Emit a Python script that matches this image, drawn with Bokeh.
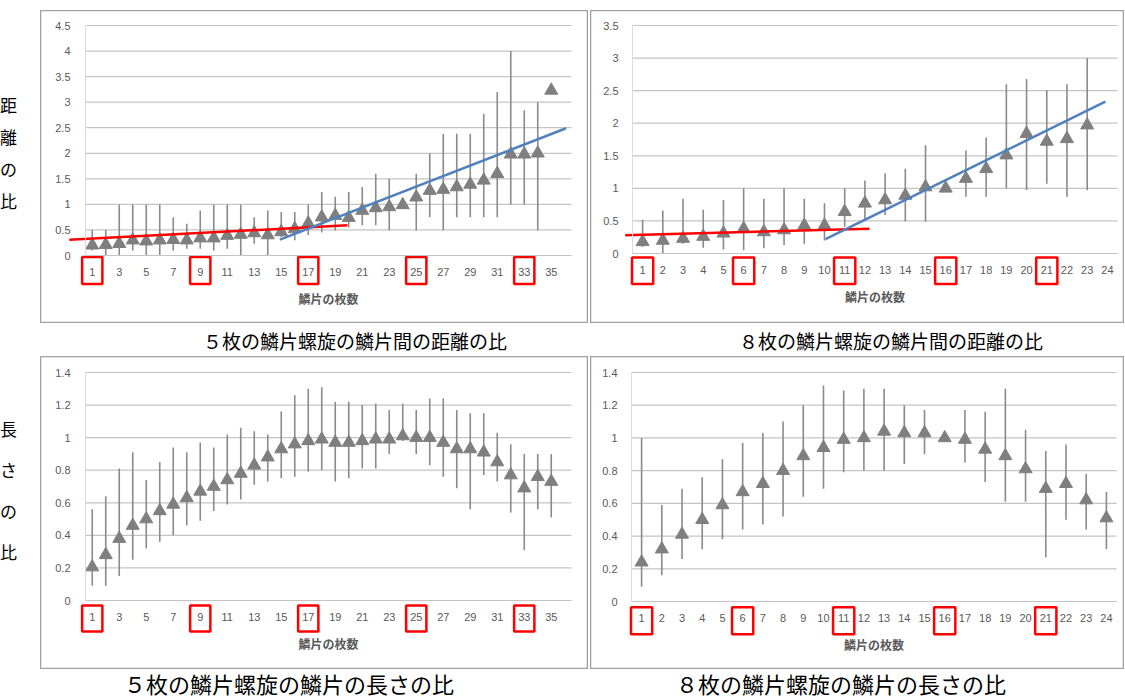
from bokeh.plotting import figure
from bokeh.layouts import row, column
from bokeh.models import FixedTicker, Div, Spacer
from bokeh.embed import file_html
from bokeh.resources import INLINE

# ---------------- data ----------------
# 5-scale spiral, distance ratio (categories 1..35)
x_d5 = list(range(1, 36))
mean_d5 = [0.20, 0.21, 0.23, 0.30, 0.28, 0.30, 0.31, 0.30, 0.34, 0.34, 0.39, 0.41, 0.44, 0.40, 0.46,
           0.52, 0.63, 0.75, 0.78, 0.74, 0.88, 0.93, 0.95, 0.99, 1.14, 1.27, 1.29, 1.34, 1.39, 1.47,
           1.60, 1.98, 1.98, 2.00, 3.23]
hi_d5 = [0.50, 0.50, 1.00, 1.00, 1.00, 1.00, 0.75, 0.62, 0.88, 1.00, 1.00, 1.00, 0.75, 0.88, 0.85,
         0.85, 1.00, 1.24, 1.15, 1.24, 1.34, 1.60, 1.50, 1.05, 1.60, 2.00, 2.38, 2.38, 2.38, 2.77,
         3.20, 4.00, 2.84, 3.00, 3.23]
lo_d5 = [0.10, 0.00, 0.00, 0.10, 0.00, 0.00, 0.10, 0.13, 0.13, 0.10, 0.13, 0.00, 0.23, 0.00, 0.36,
         0.30, 0.40, 0.45, 0.49, 0.55, 0.59, 0.59, 0.49, 0.93, 0.49, 0.75, 0.49, 0.75, 0.75, 0.75,
         0.75, 1.00, 1.00, 0.49, 3.23]

# 8-scale spiral, distance ratio (data for 1..23, axis to 24)
x_d8 = list(range(1, 24))
mean_d8 = [0.18, 0.20, 0.23, 0.26, 0.31, 0.38, 0.33, 0.36, 0.43, 0.43, 0.64, 0.77, 0.82, 0.89, 1.02,
           1.00, 1.15, 1.30, 1.51, 1.84, 1.72, 1.76, 1.97]
hi_d8 = [0.52, 0.66, 0.84, 0.67, 0.82, 1.00, 0.84, 1.00, 0.84, 0.77, 1.00, 1.12, 1.23, 1.30, 1.66,
         1.00, 1.58, 1.78, 2.60, 2.68, 2.51, 2.60, 3.00]
lo_d8 = [0.10, 0.00, 0.15, 0.09, 0.06, 0.05, 0.08, 0.13, 0.15, 0.20, 0.41, 0.53, 0.59, 0.49, 0.49,
         1.00, 0.87, 0.87, 1.00, 0.97, 1.07, 0.87, 0.97]

# 5-scale spiral, length ratio
x_l5 = list(range(1, 36))
mean_l5 = [0.205, 0.28, 0.38, 0.46, 0.50, 0.55, 0.59, 0.63, 0.67, 0.70, 0.74, 0.78, 0.83, 0.88, 0.93,
           0.96, 0.98, 0.99, 0.97, 0.97, 0.98, 0.99, 0.99, 1.01, 1.00, 1.00, 0.97, 0.93, 0.93, 0.91,
           0.85, 0.77, 0.69, 0.76, 0.73]
hi_l5 = [0.56, 0.64, 0.81, 0.91, 0.74, 0.85, 0.94, 0.91, 0.97, 0.94, 1.02, 1.06, 1.04, 1.02, 1.16,
         1.26, 1.30, 1.31, 1.22, 1.22, 1.20, 1.21, 1.17, 1.21, 1.17, 1.24, 1.24, 1.17, 1.15, 1.15,
         1.03, 0.96, 0.90, 0.90, 0.90]
lo_l5 = [0.09, 0.09, 0.15, 0.25, 0.32, 0.36, 0.40, 0.46, 0.49, 0.55, 0.59, 0.62, 0.71, 0.73, 0.75,
         0.76, 0.79, 0.80, 0.73, 0.75, 0.81, 0.81, 0.90, 0.98, 0.90, 0.83, 0.76, 0.69, 0.56, 0.77,
         0.73, 0.54, 0.31, 0.56, 0.51]

# 8-scale spiral, length ratio
x_l8 = list(range(1, 25))
mean_l8 = [0.24, 0.32, 0.41, 0.50, 0.59, 0.67, 0.72, 0.80, 0.89, 0.94, 0.99, 1.00, 1.04, 1.03, 1.03,
           1.00, 0.99, 0.93, 0.89, 0.81, 0.69, 0.72, 0.62, 0.51]
hi_l8 = [1.00, 0.59, 0.69, 0.76, 0.87, 0.97, 1.03, 1.10, 1.20, 1.32, 1.29, 1.30, 1.30, 1.20, 1.17,
         1.00, 1.17, 1.16, 1.30, 1.05, 0.92, 0.96, 0.78, 0.67]
lo_l8 = [0.09, 0.16, 0.26, 0.32, 0.38, 0.44, 0.47, 0.52, 0.64, 0.69, 0.79, 0.80, 0.80, 0.84, 0.90,
         1.00, 0.85, 0.73, 0.61, 0.61, 0.27, 0.50, 0.44, 0.32]

# tick values / labels
xticks_5 = list(range(1, 36, 2))
xticks_8 = list(range(1, 25))
yticks_d5 = [0, 0.5, 1, 1.5, 2, 2.5, 3, 3.5, 4, 4.5]
ylabels_d5 = ["0", "0.5", "1", "1.5", "2", "2.5", "3", "3.5", "4", "4.5"]
yticks_d8 = [0, 0.5, 1, 1.5, 2, 2.5, 3, 3.5]
ylabels_d8 = ["0", "0.5", "1", "1.5", "2", "2.5", "3", "3.5"]
yticks_l = [0, 0.2, 0.4, 0.6, 0.8, 1.0, 1.2, 1.4]
ylabels_l = ["0", "0.2", "0.4", "0.6", "0.8", "1", "1.2", "1.4"]

# highlighted categories (red boxes around their tick labels)
hl_5 = [1, 9, 17, 25, 33]
hl_8 = [1, 6, 11, 16, 21]

# hand-drawn trend lines: [x0, y0, x1, y1]
red_d5 = [-0.7, 0.31, 19.9, 0.59]
blue_d5 = [14.9, 0.31, 36.1, 2.49]
red_d8 = [0.14, 0.28, 12.23, 0.38]
blue_d8 = [10.05, 0.22, 23.9, 2.33]

x_title = "鱗片の枚数"
captions = ["５枚の鱗片螺旋の鱗片間の距離の比", "８枚の鱗片螺旋の鱗片間の距離の比",
            "５枚の鱗片螺旋の鱗片の長さの比", "８枚の鱗片螺旋の鱗片の長さの比"]
side_labels = ["距離の比", "長さの比"]

# ---------------- styling ----------------
GRID = "#c4c4c4"
MARK = "#7f7f7f"
BAR = "#8a8a8a"
LBL = "#595959"
TICK_FONT = "Liberation Sans"
JP = "Noto Sans CJK JP"


def panel(x, mean, lo, hi, xticks, ncat, yticks, ylabels, ymax, hl, box_w, box_y,
          W, H, pl, pr, pt, pb, lstand):
    """W,H: chart box size; pl,pr,pt,pb: plot-area edges in px inside the box."""
    sx = (pr - pl) / ncat
    sy = (pb - pt) / ymax
    xr = (0.5 - pl / sx, 0.5 + ncat + (W - pr) / sx)
    yr = (-(H - pb) / sy, ymax + pt / sy)
    p = figure(width=W, height=H, x_range=xr, y_range=yr,
               output_backend="svg", toolbar_location=None,
               min_border=0, min_border_left=0, min_border_right=0,
               min_border_top=0, min_border_bottom=0)
    p.outline_line_color = "#a0a0a0"
    p.outline_line_width = 1.5
    p.background_fill_color = "white"
    p.border_fill_color = "white"
    p.xgrid.visible = False
    p.ygrid.visible = False

    xmax = 0.5 + ncat
    # horizontal gridlines across the plot area
    p.segment(x0=[0.5] * len(yticks), y0=yticks, x1=[xmax] * len(yticks), y1=yticks,
              line_color=GRID, line_width=1.2)

    p.xaxis.fixed_location = 0
    p.xaxis.bounds = (0.5, xmax)
    p.xaxis.ticker = FixedTicker(ticks=xticks)
    p.xaxis.major_tick_line_color = None
    p.xaxis.minor_tick_line_color = None
    p.xaxis.major_tick_out = 0
    p.xaxis.axis_line_color = GRID
    p.xaxis.major_label_text_font = TICK_FONT
    p.xaxis.major_label_text_font_size = "11px"
    p.xaxis.major_label_text_color = LBL
    p.xaxis.major_label_standoff = 12
    p.xaxis.axis_label = x_title
    p.xaxis.axis_label_text_font = JP
    p.xaxis.axis_label_text_font_size = "12px"
    p.xaxis.axis_label_text_font_style = "bold"
    p.xaxis.axis_label_text_color = LBL
    p.xaxis.axis_label_standoff = 11

    p.yaxis.fixed_location = 0.5
    p.yaxis.bounds = (0, ymax)
    p.yaxis.ticker = FixedTicker(ticks=yticks)
    p.yaxis.major_label_overrides = {t: s for t, s in zip(yticks, ylabels)}
    p.yaxis.major_tick_line_color = None
    p.yaxis.minor_tick_line_color = None
    p.yaxis.major_tick_out = 0
    p.yaxis.axis_line_color = "#dcdcdc"
    p.yaxis.major_label_text_font = TICK_FONT
    p.yaxis.major_label_text_font_size = "11px"
    p.yaxis.major_label_text_color = LBL
    p.yaxis.major_label_standoff = lstand

    p.segment(x0=x, y0=lo, x1=x, y1=hi, line_color=BAR, line_width=1.6)
    p.scatter(x=x, y=mean, marker="triangle", size=13, fill_color=MARK, line_color=MARK)

    p.quad(left=[k - box_w / 2 for k in hl], right=[k + box_w / 2 for k in hl],
           bottom=[box_y[0]] * len(hl), top=[box_y[1]] * len(hl),
           fill_color=None, line_color="#ff0000", line_width=2.5)
    return p


p1 = panel(x_d5, mean_d5, lo_d5, hi_d5, xticks_5, 36, yticks_d5, ylabels_d5, 4.5, hl_5,
           1.5, (-0.56, -0.03), 548, 313, 45, 531, 15, 245, 15)
p2 = panel(x_d8, mean_d8, lo_d8, hi_d8, xticks_8, 24, yticks_d8, ylabels_d8, 3.5, hl_8,
           1.05, (-0.47, -0.06), 534, 313, 42, 527, 15, 243, 14)
p3 = panel(x_l5, mean_l5, lo_l5, hi_l5, xticks_5, 36, yticks_l, ylabels_l, 1.4, hl_5,
           1.5, (-0.19, -0.03), 548, 313, 45, 531, 16, 244, 15)
p4 = panel(x_l8, mean_l8, lo_l8, hi_l8, xticks_8, 24, yticks_l, ylabels_l, 1.4, hl_8,
           1.05, (-0.20, -0.035), 534, 313, 41, 526, 16, 245, 14)

for p, r, b in ((p1, red_d5, blue_d5), (p2, red_d8, blue_d8)):
    p.segment(x0=[r[0]], y0=[r[1]], x1=[r[2]], y1=[r[3]], line_color="#ff0000", line_width=2.5)
    p.segment(x0=[b[0]], y0=[b[1]], x1=[b[2]], y1=[b[3]], line_color="#4f81bd", line_width=2.5)


def side_div(txt, h, pad, lh):
    chars = "<br>".join(list(txt))
    html = (f'<div style="font-family:\'{JP}\';font-size:17px;line-height:{lh}px;margin:0;'
            f'text-align:center;padding-top:{pad}px;color:#000;">{chars}</div>')
    return Div(text=html, width=40, height=h, margin=0, styles={"overflow": "hidden"})


def cap_div(txt, w, h, size, padl, padt, lh):
    html = (f'<div style="font-family:\'{JP}\';font-size:{size}px;line-height:{lh}px;margin:0;'
            f'padding-top:{padt}px;padding-left:{padl}px;text-align:left;'
            f'white-space:nowrap;color:#000;">{txt}</div>')
    return Div(text=html, width=w, height=h, margin=0, styles={"overflow": "hidden"})


layout = column(
    Spacer(height=10, width=1124),
    row(side_div(side_labels[0], 313, 79, 32), p1, Spacer(width=2, height=313), p2),
    row(Spacer(width=40, height=33), cap_div(captions[0], 548, 33, 19, 163, 8, 20),
        Spacer(width=2, height=33), cap_div(captions[1], 534, 33, 19, 149, 8, 20)),
    row(side_div(side_labels[1], 313, 52, 41), p3, Spacer(width=2, height=313), p4),
    row(Spacer(width=40, height=29), cap_div(captions[2], 548, 29, 22, 84, 0, 29),
        Spacer(width=2, height=29), cap_div(captions[3], 534, 29, 22, 86, 0, 29)),
)

open("out.html", "w").write(file_html(layout, INLINE))
